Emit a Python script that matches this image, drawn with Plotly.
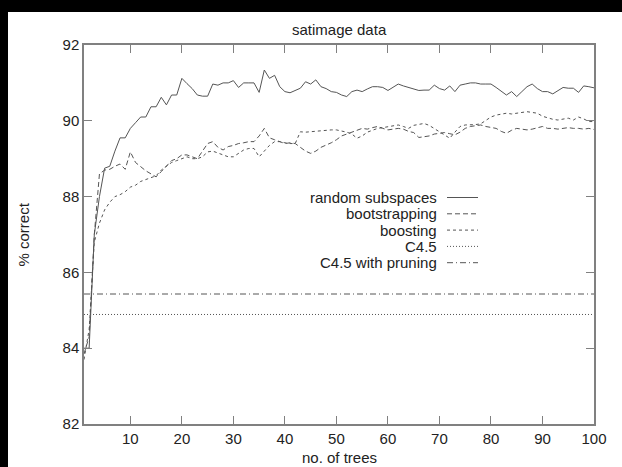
import plotly.graph_objects as go

# ---------------- data ----------------
trees = list(range(1, 101))

random_subspaces = [
    84.0, 84.0, 87.0, 88.0, 88.75, 88.8, 89.2, 89.55, 89.55, 89.8,
    89.95, 90.1, 90.1, 90.37, 90.37, 90.62, 90.42, 90.68, 90.68, 91.12,
    90.98, 90.85, 90.68, 90.65, 90.65, 90.97, 90.94, 91.0, 91.0, 91.06,
    90.88, 91.0, 91.0, 91.0, 90.75, 91.34, 91.12, 91.2, 90.9, 90.77,
    90.74, 90.81, 90.86, 91.03, 90.97, 91.08, 90.9, 90.85, 90.77, 90.75,
    90.68, 90.64, 90.77, 90.81, 90.77, 90.84, 90.9, 90.9, 90.88, 90.8,
    90.88, 90.97, 90.92, 90.88, 90.84, 90.8, 90.81, 90.81, 90.94, 90.85,
    90.81, 90.92, 90.77, 90.94, 90.97, 91.0, 91.0, 90.97, 90.97, 90.97,
    90.88, 90.77, 90.68, 90.77, 90.64, 90.77, 90.9, 90.97, 90.85, 90.77,
    90.77, 90.71, 90.8, 90.88, 90.86, 90.86, 90.75, 90.92, 90.9, 90.87,
]

bootstrapping = [
    83.85, 84.3, 87.0, 88.6, 88.7, 88.72, 88.8, 88.86, 88.72, 89.18,
    88.9, 88.78, 88.68, 88.6, 88.52, 88.66, 88.8, 88.95, 89.0, 89.1,
    89.1, 89.05, 89.0, 89.2, 89.4, 89.45, 89.3, 89.23, 89.32, 89.35,
    89.4, 89.42, 89.45, 89.45, 89.6, 89.8, 89.55, 89.5, 89.45, 89.4,
    89.42, 89.4, 89.3, 89.2, 89.14, 89.2, 89.3, 89.35, 89.42, 89.5,
    89.6, 89.65, 89.71, 89.75, 89.8, 89.78, 89.82, 89.85, 89.8, 89.76,
    89.78, 89.8, 89.78, 89.72, 89.69, 89.56, 89.58, 89.6, 89.65, 89.68,
    89.69, 89.66, 89.63, 89.7, 89.8, 89.85, 89.87, 89.89, 89.85, 89.82,
    89.8, 89.72, 89.67, 89.75, 89.8, 89.78, 89.76, 89.78, 89.82, 89.85,
    89.8, 89.8, 89.78, 89.8, 89.82, 89.8, 89.8, 89.78, 89.8, 89.77,
]

boosting = [
    83.7, 84.5, 86.8, 87.3, 87.65, 87.85, 88.0, 88.05, 88.13, 88.25,
    88.3, 88.4, 88.45, 88.5, 88.55, 88.7, 88.8, 88.9, 88.95, 89.0,
    89.05, 89.0, 89.0, 89.05, 89.18, 89.2, 89.15, 89.1, 89.05, 89.05,
    89.15, 89.23, 89.27, 89.27, 89.05, 89.2, 89.35, 89.45, 89.45, 89.42,
    89.4, 89.4, 89.71, 89.7, 89.71, 89.72, 89.74, 89.76, 89.76, 89.76,
    89.73, 89.7, 89.65, 89.54, 89.6, 89.7, 89.75, 89.8, 89.82, 89.85,
    89.87, 89.89, 89.85, 89.8, 89.88, 89.9, 89.93, 89.88, 89.8, 89.72,
    89.62, 89.54, 89.7, 89.85, 89.89, 89.89, 89.9, 89.92, 90.0, 90.1,
    90.15, 90.17, 90.2, 90.18, 90.2, 90.22, 90.24, 90.22, 90.2, 90.12,
    90.07, 90.04, 90.02, 90.05, 90.07, 90.02, 90.1, 90.05, 89.98, 89.98,
]

c45 = 84.89
c45_pruned = 85.43

series_names = ["random subspaces", "bootstrapping", "boosting", "C4.5", "C4.5 with pruning"]
x_ticks = [10, 20, 30, 40, 50, 60, 70, 80, 90, 100]
y_ticks = [82, 84, 86, 88, 90, 92]

# ---------------- layout geometry (pixels) ----------------
W, H = 622, 467
L, R, T, B = 84, 28, 45, 43
PW, PH = W - L - R, H - T - B

def px(xp):
    return (xp - L) / PW

def py(yp):
    return (H - B - yp) / PH

LINE = "#555555"
AXIS = "#808080"
TEXT = "#222222"
FONT = "Liberation Sans, Arial, Helvetica, sans-serif"

dashes = ["solid", "5px,3px", "3px,3px", "1px,2px", "6px,3px,1px,3px"]

fig = go.Figure()
fig.add_trace(go.Scatter(x=trees, y=random_subspaces, mode="lines",
                         line=dict(color=LINE, width=1, dash=dashes[0]), name=series_names[0]))
fig.add_trace(go.Scatter(x=trees, y=bootstrapping, mode="lines",
                         line=dict(color=LINE, width=1, dash=dashes[1]), name=series_names[1]))
fig.add_trace(go.Scatter(x=trees, y=boosting, mode="lines",
                         line=dict(color=LINE, width=1, dash=dashes[2]), name=series_names[2]))
fig.add_trace(go.Scatter(x=[trees[0], trees[-1]], y=[c45, c45], mode="lines",
                         line=dict(color=LINE, width=1, dash=dashes[3]), name=series_names[3]))
fig.add_trace(go.Scatter(x=[trees[0], trees[-1]], y=[c45_pruned, c45_pruned], mode="lines",
                         line=dict(color=LINE, width=1, dash=dashes[4]), name=series_names[4]))

shapes = []
annotations = []
# black scan borders
shapes.append(dict(type="rect", xref="paper", yref="paper", x0=px(0), x1=px(W), y0=py(12), y1=py(0),
                   fillcolor="black", line=dict(width=0), layer="above"))
shapes.append(dict(type="rect", xref="paper", yref="paper", x0=px(0), x1=px(8), y0=py(H), y1=py(0),
                   fillcolor="black", line=dict(width=0), layer="above"))

# manual legend: text right-aligned, sample line on the right
leg_text_right = 439
leg_line_x0, leg_line_x1 = 447, 478
leg_y0, leg_dy = 197.5, 16.3
for i, name in enumerate(series_names):
    yy = leg_y0 + i * leg_dy
    annotations.append(dict(xref="paper", yref="paper", x=px(leg_text_right), y=py(yy),
                            xanchor="right", yanchor="middle", text=name, showarrow=False,
                            font=dict(family=FONT, size=15, color=TEXT)))
    shapes.append(dict(type="line", xref="paper", yref="paper", x0=px(leg_line_x0), x1=px(leg_line_x1),
                       y0=py(yy), y1=py(yy), line=dict(color=LINE, width=1, dash=dashes[i])))

# titles
annotations.append(dict(xref="paper", yref="paper", x=0.5, y=py(29), xanchor="center", yanchor="middle",
                        text="satimage data", showarrow=False, font=dict(family=FONT, size=15, color=TEXT)))
annotations.append(dict(xref="paper", yref="paper", x=0.5, y=py(457), xanchor="center", yanchor="middle",
                        text="no. of trees", showarrow=False, font=dict(family=FONT, size=15, color=TEXT)))
annotations.append(dict(xref="paper", yref="paper", x=px(23), y=0.5, xanchor="center", yanchor="middle",
                        text="% correct", textangle=-90, showarrow=False,
                        font=dict(family=FONT, size=15, color=TEXT)))

fig.update_layout(
    width=W, height=H,
    margin=dict(l=L, r=R, t=T, b=B, pad=0),
    paper_bgcolor="white", plot_bgcolor="white",
    showlegend=False,
    shapes=shapes, annotations=annotations,
    font=dict(family=FONT, size=15, color=TEXT),
)
fig.update_xaxes(range=[1, 100], tickvals=x_ticks, ticks="inside", ticklen=8, tickwidth=1.2,
                 tickcolor=AXIS, showline=True, linecolor=AXIS, linewidth=1.5, mirror="ticks",
                 showgrid=False, zeroline=False, tickfont=dict(family=FONT, size=15, color=TEXT))
fig.update_yaxes(range=[82, 92], tickvals=y_ticks, ticks="inside", ticklen=8, tickwidth=1.2,
                 tickcolor=AXIS, showline=True, linecolor=AXIS, linewidth=1.5, mirror="ticks",
                 showgrid=False, zeroline=False, tickfont=dict(family=FONT, size=15, color=TEXT))

fig.write_html(
    "out.html",
    config={"displayModeBar": False},
    post_script="document.body.style.margin='0';document.body.style.padding='0';"
                "document.body.style.overflow='hidden';document.documentElement.style.overflow='hidden';",
)
